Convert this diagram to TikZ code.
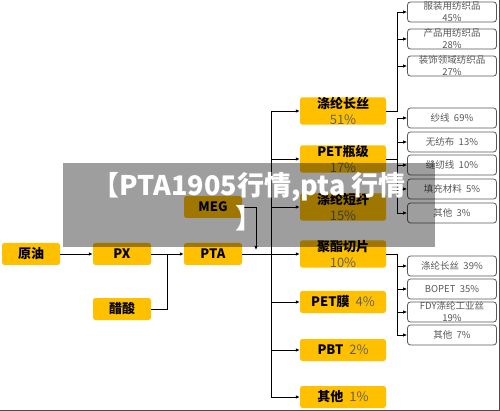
\documentclass[tikz,border=0pt]{standalone}
\usepackage{fontspec}
\setmainfont{Noto Sans CJK SC}
\usetikzlibrary{arrows.meta}
\definecolor{boxyellow}{HTML}{FFC000}
\newcommand\pct[1]{{\mdseries\color{black!62}#1}}
\begin{document}
\begin{tikzpicture}[x=1pt,y=-1pt,
    ybox/.style={fill=boxyellow, rounded corners=2.5pt, minimum width=58pt, minimum height=22pt,
        inner sep=0pt, align=center, font=\bfseries\fontsize{13}{16}\selectfont},
    wide/.style={ybox, minimum width=86pt},
    wbox/.style={draw=black!65, line width=0.8pt, rounded corners=3pt, minimum width=89pt,
        minimum height=20pt, inner sep=0pt, align=center, text=black!65,
        font=\fontsize{9.5}{12}\selectfont},
    arr/.style={-{Latex[length=4pt,width=3.5pt]}, line width=0.8pt},
    link/.style={line width=0.8pt}]
    \useasboundingbox[fill=white] (0,0) rectangle (500,411);
    \draw[black!70, line width=0.8pt] (0,410) -- (499,410) -- (499,0);
    % left chain
    \node[ybox] (yuanyou) at (31,254) {原油};
    \node[ybox] (px) at (122,254) {PX};
    \node[ybox] (cusuan) at (122,309) {醋酸};
    \node[ybox] (meg) at (213,207) {MEG};
    \node[ybox] (pta) at (213,254) {PTA};
    % products of PTA
    \node[wide] (changsi) at (343,111) {涤纶长丝\\\pct{51\%}};
    \node[wide] (pingji) at (343,159) {PET瓶级\\\pct{17\%}};
    \node[wide] (duanxian) at (343,207) {涤纶短纤\\\pct{15\%}};
    \node[wide] (qiepian) at (343,254) {聚酯切片\\\pct{10\%}};
    \node[wide] (pianmo) at (343,302) {PET膜\ \ \pct{4\%}};
    \node[wide] (pbt) at (343,350) {PBT\ \ \pct{2\%}};
    \node[wide] (qita) at (343,397) {其他\ \ \pct{1\%}};
    % end uses
    \node[wbox] (fz) at (452,12) {服装用纺织品\\45\%};
    \node[wbox] (cp) at (452,39) {产品用纺织品\\28\%};
    \node[wbox] (zs) at (452,66) {装饰领域纺织品\\27\%};
    \node[wbox] (sx) at (452,118) {纱线\ \ 69\%};
    \node[wbox] (wf) at (452,142) {无纺布\ \ 13\%};
    \node[wbox] (fr) at (452,165) {缝纫线\ \ 10\%};
    \node[wbox] (tc) at (452,189) {填充材料\ \ 5\%};
    \node[wbox] (qt1) at (452,213) {其他\ \ 3\%};
    \node[wbox] (cs) at (452,266) {涤纶长丝\ \ 39\%};
    \node[wbox] (bopet) at (452,289) {BOPET\ \ 35\%};
    \node[wbox] (fdy) at (452,312) {FDY涤纶工业丝\\19\%};
    \node[wbox] (qt2) at (452,335) {其他\ \ 7\%};
    \coordinate (j1) at (167,254);
    \coordinate (j2) at (256,250);
    \coordinate (trunk) at (271,254);
    \coordinate (br) at (397,0);
    % connectors
    \draw[arr] (yuanyou) -- (px);
    \draw[arr] (px) -- (pta);
    \draw[link] (cusuan.east) -| (j1);
    \draw[arr] (meg.east) -| (j2);
    \draw[link] (pta.east) -- (trunk);
    \draw[link] (trunk |- changsi) -- (trunk |- qita);
    \foreach \n in {changsi,pingji,duanxian,qiepian,pianmo,pbt,qita}
        \draw[arr] (trunk |- \n) -- (\n.west);
    \foreach \c in {fz,cp,zs}
        \draw[arr] (changsi.east) -| (br |- \c) -- (\c.west);
    \foreach \c in {sx,wf,fr,tc,qt1}
        \draw[arr] (pingji.east) -| (br |- \c) -- (\c.west);
    \foreach \c in {cs,bopet,fdy,qt2}
        \draw[arr] (qiepian.east) -| (br |- \c) -- (\c.west);
    % banner over the chart
    \fill[black, opacity=0.38] (63,163) rectangle (435,247);
    \node[text=white, align=center, font=\bfseries\fontsize{27}{33}\selectfont] (banner) at (249,202)
        {【PTA1905行情,pta 行情\\】};
\end{tikzpicture}
\end{document}
